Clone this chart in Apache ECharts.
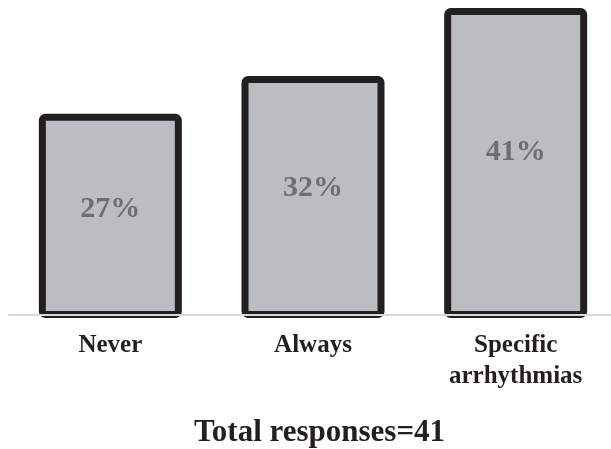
<!DOCTYPE html>
<html>
<head>
<meta charset="utf-8">
<script src="https://cdn.jsdelivr.net/npm/echarts@6/dist/echarts.min.js"></script>
<style>
  html, body { margin: 0; padding: 0; background: #fff; }
  #chart { width: 611px; height: 449px; }
</style>
</head>
<body>
<div id="chart"></div>
<script>
// 数据
const categories = ['Never', 'Always', 'Specific\narrhythmias'];
const percents = [27, 32, 41];
const totalResponses = 41;

const chart = echarts.init(document.getElementById('chart'));

const option = {
  backgroundColor: '#fff',
  title: {
    text: 'Total responses=' + totalResponses,
    left: 189,
    top: 412,
    textStyle: {
      fontFamily: 'Liberation Serif',
      fontWeight: 'bold',
      fontSize: 31,
      color: '#231f20'
    }
  },
  grid: { left: 9, width: 608, top: 8, bottom: 131, outerBoundsMode: 'none' },
  xAxis: {
    type: 'category',
    data: categories,
    z: 3,
    offset: -3,
    axisTick: { show: false },
    axisLine: { lineStyle: { color: '#d9d9d9', width: 2 } },
    axisLabel: {
      margin: 15,
      interval: 0,
      fontFamily: 'Liberation Serif',
      fontWeight: 'bold',
      fontSize: 25,
      lineHeight: 31,
      color: '#231f20'
    }
  },
  yAxis: {
    type: 'value',
    min: 0,
    max: 41,
    show: false,
    splitLine: { show: false }
  },
  series: [{
    type: 'bar',
    data: percents,
    barWidth: 143,
    clip: false,
    itemStyle: {
      color: '#bcbdc0',
      borderColor: '#231f20',
      borderWidth: 7,
      borderRadius: 3
    },
    label: {
      show: true,
      position: ['50%', '46.5%'],
      align: 'center',
      verticalAlign: 'middle',
      formatter: '{c}%',
      fontFamily: 'Liberation Serif',
      fontWeight: 'bold',
      fontSize: 30,
      color: '#6d6e71'
    }
  }]
};

chart.setOption(option);
</script>
</body>
</html>
